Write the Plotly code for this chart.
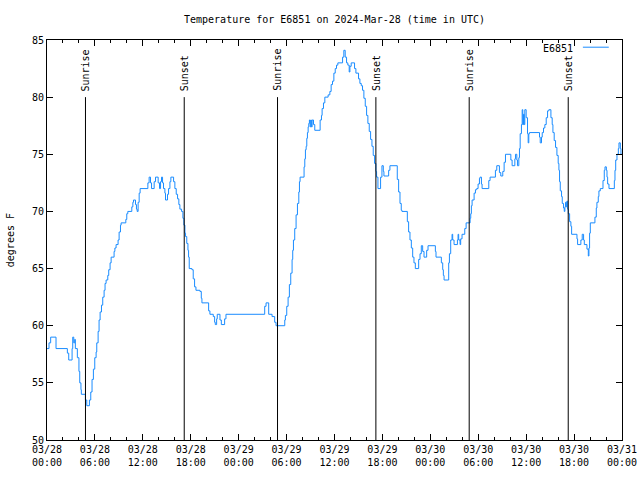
import plotly.graph_objects as go
import pandas as pd

# hours after 2024-03-28 00:00 UTC and temperature (deg F) at each change point
hours = [0.00, 0.25, 0.46, 1.13, 2.55, 2.72, 3.14, 3.22, 3.35, 3.47, 3.55, 3.80, 4.00, 4.10, 4.25, 4.30,
         4.81, 4.98, 5.31, 5.48, 5.64, 5.81, 5.98, 6.15, 6.23, 6.40, 6.52, 6.65, 6.82, 6.98, 7.15, 7.27,
         7.40, 7.61, 7.73, 7.90, 8.03, 8.40, 8.50, 8.65, 8.90, 9.03, 9.20, 9.28, 9.87, 9.99, 10.12, 10.62,
         10.75, 10.83, 11.08, 11.20, 11.29, 11.41, 11.54, 11.66, 12.63, 12.79, 12.96, 13.09, 13.42, 13.59,
         13.92, 14.09, 14.22, 14.34, 14.47, 14.59, 14.76, 14.84, 15.09, 15.22, 15.39, 15.51, 15.85, 16.01,
         16.18, 16.35, 16.51, 16.64, 16.85, 17.02, 17.14, 17.27, 17.35, 17.50, 17.65, 17.73, 17.81, 18.15,
         18.31, 18.48, 18.65, 19.15, 19.32, 19.40, 20.24, 20.40, 20.82, 20.99, 21.07, 21.24, 21.32, 21.66,
         21.83, 22.24, 22.41, 27.26, 27.43, 27.76, 28.18, 28.51, 28.68, 29.77, 29.85, 30.02, 30.19, 30.35,
         30.52, 30.69, 30.77, 30.86, 31.02, 31.19, 31.36, 31.53, 31.61, 31.69, 32.19, 32.28, 32.36, 32.45,
         32.53, 32.61, 32.70, 32.78, 32.86, 32.95, 33.03, 33.11, 33.20, 33.37, 33.53, 34.20, 34.37, 34.45,
         34.62, 34.79, 35.20, 35.42, 35.58, 35.75, 35.92, 36.09, 36.25, 36.42, 37.01, 37.17, 37.34, 37.51,
         37.67, 37.84, 37.93, 38.09, 38.51, 38.68, 39.01, 39.18, 39.35, 39.51, 39.68, 39.85, 40.02, 40.18,
         40.35, 40.52, 40.69, 40.85, 41.02, 41.19, 41.27, 41.44, 41.77, 41.94, 42.11, 42.19, 42.78, 42.94,
         43.86, 44.03, 44.20, 44.36, 44.45, 45.12, 45.28, 45.45, 45.62, 45.79, 45.95, 46.12, 46.54, 46.71,
         46.87, 47.04, 47.21, 47.54, 47.71, 48.63, 48.71, 49.38, 49.55, 49.63, 49.72, 50.30, 50.39, 50.55,
         50.72, 50.80, 50.97, 51.39, 51.47, 51.55, 51.72, 51.80, 51.97, 52.31, 52.48, 52.98, 53.06, 53.14,
         53.23, 53.48, 53.65, 53.81, 53.98, 54.15, 54.23, 54.40, 54.48, 55.32, 55.48, 56.15, 56.32, 56.65,
         56.82, 57.07, 57.24, 57.41, 58.08, 58.24, 58.58, 58.66, 58.83, 58.91, 59.08, 59.16, 59.25, 59.41,
         59.50, 59.58, 59.67, 59.75, 59.83, 60.00, 60.17, 60.25, 60.33, 60.42, 61.67, 61.76, 61.92, 62.01,
         62.17, 62.34, 62.51, 62.68, 62.84, 63.10, 63.26, 63.35, 63.51, 63.68, 63.85, 64.01, 64.10, 64.18,
         64.27, 64.43, 64.52, 64.68, 64.77, 64.85, 64.93, 65.02, 65.10, 65.19, 65.27, 65.44, 65.60, 65.69,
         66.36, 66.44, 66.85, 67.02, 67.19, 67.28, 67.61, 67.78, 67.86, 67.94, 68.03, 68.61, 68.78, 68.86,
         69.03, 69.11, 69.28, 69.62, 69.78, 69.87, 70.04, 70.12, 70.20, 70.37, 71.04, 71.12, 71.21, 71.37,
         71.54, 71.62, 71.79, 71.87, 72.00]
temps = [58.0, 58.5, 59.0, 58.0, 57.6, 57.0, 58.0, 59.0, 58.5, 58.8, 58.0, 57.2, 56.0, 55.0, 54.4, 54.0,
         53.5, 53.0, 53.5, 54.2, 55.3, 56.2, 57.2, 57.7, 58.5, 59.5, 60.5, 61.2, 61.8, 62.5, 63.1, 63.7,
         64.0, 64.4, 64.9, 65.5, 66.0, 66.5, 66.8, 67.1, 67.5, 68.2, 68.8, 69.0, 69.3, 69.8, 70.0, 70.4,
         70.8, 71.0, 70.6, 70.2, 70.0, 70.8, 71.6, 72.0, 72.5, 73.0, 72.5, 72.0, 72.6, 73.0,
         72.5, 72.0, 72.6, 73.0, 72.5, 72.0, 71.6, 71.0, 71.5, 72.0, 72.6, 73.0, 72.6, 72.0,
         71.5, 71.1, 70.6, 70.2, 70.0, 69.4, 68.8, 68.1, 67.8, 67.2, 66.6, 66.0, 65.0, 64.9,
         64.1, 63.4, 63.1, 63.0, 62.4, 62.0, 61.3, 61.0, 60.8, 60.3, 60.1, 60.6, 61.0, 60.5,
         60.1, 60.6, 61.0, 61.7, 62.0, 61.0, 60.8, 60.3, 60.0, 60.5, 60.9, 61.7, 62.5, 63.6,
         64.6, 65.8, 66.6, 67.5, 68.5, 69.7, 70.7, 71.7, 72.6, 73.0, 73.9, 74.6, 75.4, 75.7,
         76.4, 76.9, 77.4, 77.7, 78.0, 77.4, 78.0, 77.4, 78.0, 77.6, 77.1, 78.0, 78.4, 79.0,
         79.5, 80.0, 80.2, 80.5, 81.1, 81.4, 82.1, 82.5, 82.8, 83.0, 83.5, 84.1, 83.5, 83.0,
         82.8, 82.2, 82.7, 83.0, 82.5, 82.1, 81.6, 81.2, 81.0, 80.6, 79.9, 79.2, 78.4, 77.7,
         77.0, 76.3, 75.7, 74.9, 74.2, 73.5, 73.0, 72.0, 73.0, 74.0, 73.5, 73.1, 73.6, 74.0,
         72.8, 71.7, 70.7, 70.1, 70.0, 69.1, 68.2, 67.5, 66.8, 66.0, 65.5, 65.0, 65.8, 66.3,
         67.0, 66.5, 66.0, 66.6, 67.0, 66.5, 66.0, 65.5, 64.9, 64.4, 64.0, 65.5, 66.3, 67.5,
         68.0, 67.5, 67.1, 67.5, 68.0, 67.5, 67.1, 67.6, 68.0, 68.5, 69.0, 69.4, 69.8, 70.5,
         71.0, 71.6, 71.9, 72.0, 72.4, 72.9, 73.0, 72.4, 72.0, 72.7, 73.0, 73.6, 74.0, 73.4,
         73.1, 73.5, 74.3, 75.0, 74.5, 74.0, 74.6, 75.0, 74.5, 74.0, 74.7, 75.5, 76.8, 77.6,
         78.9, 77.6, 78.5, 77.6, 78.9, 78.2, 76.8, 76.0, 76.8, 76.9, 76.5, 76.0, 76.5, 76.9,
         77.3, 77.6, 78.2, 78.8, 78.9, 78.2, 77.6, 76.9, 76.2, 75.6, 74.9, 74.2, 73.6, 72.6,
         71.8, 71.3, 70.7, 70.3, 70.0, 70.4, 70.8, 70.4, 70.9, 70.2, 69.8, 69.1, 68.7, 68.0,
         67.6, 67.1, 67.5, 68.0, 67.5, 67.1, 66.7, 66.1, 66.8, 68.1, 69.0, 69.5, 70.3, 70.8,
         71.3, 71.8, 72.0, 72.7, 73.6, 73.9, 73.6, 73.0, 72.4, 72.0, 72.7, 73.6, 74.5, 75.0,
         75.5, 76.0, 75.5, 75.0, 75.0]

sun_times = ["2024-03-28 04:49", "2024-03-28 17:11", "2024-03-29 04:52",
             "2024-03-29 17:11", "2024-03-30 04:52", "2024-03-30 17:16"]
sun_labels = ["Sunrise", "Sunset", "Sunrise", "Sunset", "Sunrise", "Sunset"]
sun_line_top = 80
series_name = "E6851"
title_text = "Temperature for E6851 on 2024-Mar-28 (time in UTC)"

start = pd.Timestamp("2024-03-28 00:00")
end = pd.Timestamp("2024-03-31 00:00")
times = [start + pd.Timedelta(hours=h) for h in hours]

FONT = "DejaVu Sans Mono"
LINE_COLOR = "#1a8cff"

fig = go.Figure()
fig.add_trace(go.Scatter(x=times, y=temps, mode="lines", name=series_name,
                         line=dict(color=LINE_COLOR, width=1, shape="hv"), showlegend=False))
for t, lab in zip(sun_times, sun_labels):
    fig.add_trace(go.Scatter(x=[t, t], y=[50, sun_line_top], mode="lines",
                             line=dict(color="black", width=1), showlegend=False, hoverinfo="skip"))
    fig.add_annotation(x=t, y=sun_line_top, text=lab, textangle=-90, showarrow=False,
                       xanchor="center", yanchor="bottom", yshift=4,
                       font=dict(family=FONT, size=10, color="black"))

# legend (gnuplot style: text then sample)
fig.add_annotation(x=0.918, y=0.98, xref="paper", yref="paper", text=series_name, showarrow=False,
                   xanchor="right", yanchor="middle", font=dict(family=FONT, size=10, color="black"))
fig.add_shape(type="line", xref="paper", yref="paper", x0=0.932, x1=0.977, y0=0.982, y1=0.982,
              line=dict(color=LINE_COLOR, width=1))

# y axis label
fig.add_annotation(x=-0.064, y=0.5, xref="paper", yref="paper", text="degrees F", textangle=-90,
                   showarrow=False, xanchor="center", yanchor="middle",
                   font=dict(family=FONT, size=10, color="black"))

fig.update_layout(
    width=640, height=480,
    margin=dict(l=47, r=18, t=40, b=40, autoexpand=False),
    paper_bgcolor="white", plot_bgcolor="white",
    font=dict(family=FONT, size=10, color="black"),
    title=dict(text=title_text, x=0.5, xref="paper", y=1 - 19 / 480, yref="container",
               xanchor="center", yanchor="middle", font=dict(family=FONT, size=10, color="black")),
    showlegend=False,
)
fig.update_xaxes(type="date", range=[start, end], tick0=start, dtick=6 * 3600 * 1000,
                 tickformat="%m/%d<br>%H:%M", ticks="inside", ticklen=6, tickcolor="black",
                 showline=True, linecolor="black", linewidth=1, mirror="allticks",
                 showgrid=False, zeroline=False, automargin=False,
                 minor=dict(dtick=2 * 3600 * 1000, ticks="inside", ticklen=3, tickcolor="black", showgrid=False))
fig.update_yaxes(range=[50, 85], dtick=5, ticks="inside", ticklen=6, tickcolor="black",
                 showline=True, linecolor="black", linewidth=1, mirror="allticks",
                 showgrid=False, zeroline=False, automargin=False)

fig.write_html("out.html", config={"displayModeBar": False},
               post_script="document.body.style.margin='0';")
